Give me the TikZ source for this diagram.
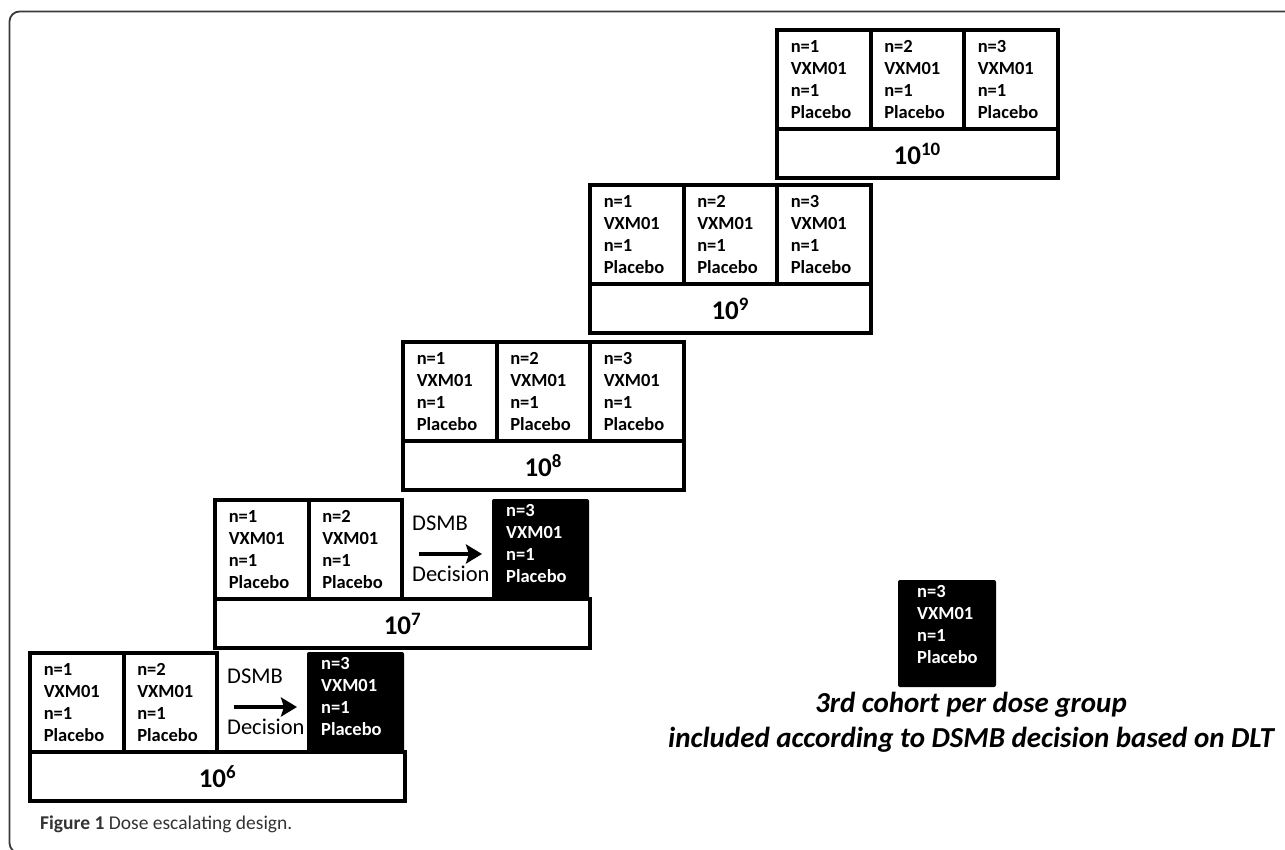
\documentclass[tikz,border=0pt]{standalone}
\usepackage{fontspec}
\setmainfont{Carlito}
\usepackage{xcolor}
\usetikzlibrary{positioning, arrows.meta}

\definecolor{framegray}{HTML}{3A3A3A}
\definecolor{captiongray}{HTML}{333333}

\newcommand{\cohort}[1]{n=#1\\VXM01\\n=1\\Placebo}

\tikzset{
  cell/.style={draw, line width=4pt, outer sep=0pt, inner sep=0pt, anchor=north west,
    minimum width=93.5pt, minimum height=99pt, text width=66pt, align=left,
    font=\bfseries\fontsize{18.5}{22}\selectfont},
  dosebox/.style={draw, line width=4pt, outer sep=0pt, minimum height=49pt,
    font=\bfseries\fontsize{27}{30}\selectfont},
  darkcell/.style={fill=black, outer sep=0pt, minimum width=97pt, minimum height=101pt,
    rounded corners=2pt},
  darktext/.style={text=white, inner sep=0pt, align=left,
    font=\bfseries\fontsize{18.5}{22}\selectfont},
  dsmbtext/.style={inner sep=0pt, anchor=base west, font=\fontsize{22.5}{26}\selectfont},
}

\begin{document}
\begin{tikzpicture}[x=1pt, y=-1pt]
  \useasboundingbox (0,0) rectangle (1285,849);
  \clip (0,0) rectangle (1285,849);
  % Frame
  \draw[framegray, line width=1.8pt, rounded corners=10pt] (1290,11.5) -- (9.5,11.5) -- (9.5,853) -- (30,853);
  % Dose groups with three cohorts
  \foreach \x/\y/\e in {403/342/8, 590/185/9, 777/30/10} {
    \node[cell] (a\e) at (\x,\y) {\cohort{1}};
    \node[cell, right=0pt of a\e] (b\e) {\cohort{2}};
    \node[cell, right=0pt of b\e] (c\e) {\cohort{3}};
    \node[dosebox, minimum width=280.5pt, below right=0pt and 0pt of a\e.south west] (dose\e) {10\textsuperscript{\e}};
  }
  % Dose groups with DSMB decision
  \foreach \x/\y/\e in {30/653/6, 215/500/7} {
    \node[cell] (a\e) at (\x,\y) {\cohort{1}};
    \node[cell, right=0pt of a\e] (b\e) {\cohort{2}};
    \node[darkcell, right=90pt of b\e] (c\e) {};
    \node[darktext, below right=5pt and 14pt of c\e.north west] (t\e) {\cohort{3}};
    \node[dsmbtext] (d\e) at ([xshift=10pt, yshift=-30pt]b\e.north east) {DSMB};
    \node[dsmbtext] (e\e) at ([xshift=10pt, yshift=-81pt]b\e.north east) {Decision};
    \coordinate (p\e) at ([xshift=17pt, yshift=-54pt]b\e.north east);
    \coordinate (q\e) at ([xshift=80pt, yshift=-54pt]b\e.north east);
    \draw[line width=3.6pt, -{Stealth[length=16pt, width=19pt, inset=3pt]}] (p\e) -- (q\e);
    \node[dosebox, minimum width=375pt, below right=0pt and 0pt of a\e.south west] (dose\e) {10\textsuperscript{\e}};
  }
  % Key
  \node[darkcell, minimum width=98pt, minimum height=107pt, anchor=north west] (key) at (898,580) {};
  \node[darktext, below right=5pt and 19pt of key.north west] (keycohort) {\cohort{3}};
  \node[inner sep=0pt, align=center, below=5pt of key, xshift=24pt,
    font=\bfseries\itshape\fontsize{29}{34.5}\selectfont] (keytext)
    {3rd cohort per dose group\\included according to DSMB decision based on DLT};
  % Caption
  \node[anchor=base west, inner sep=0pt, text=captiongray, font=\fontsize{19.5}{22}\selectfont] (caption)
    at (40,829) {\textbf{Figure 1} Dose escalating design.};
\end{tikzpicture}
\end{document}
